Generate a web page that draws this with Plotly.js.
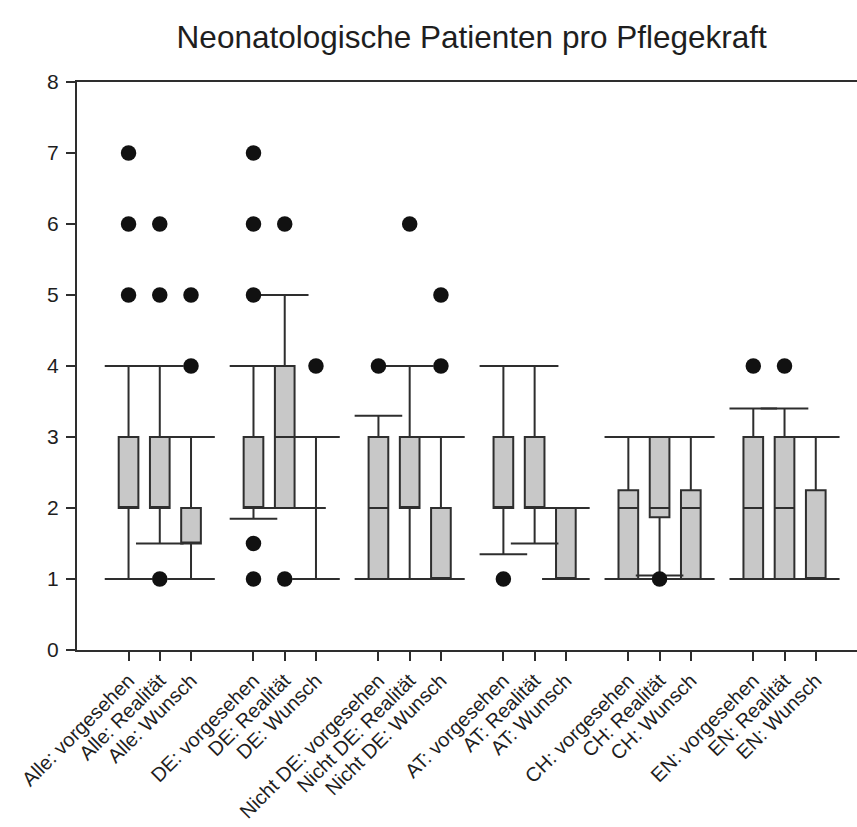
<!DOCTYPE html>
<html>
<head>
<meta charset="utf-8">
<script src="https://cdn.plot.ly/plotly-3.0.1.min.js"></script>
<style>
  html, body { margin: 0; padding: 0; background: #ffffff; overflow: hidden; }
  #chart { width: 857px; height: 827px; }
</style>
</head>
<body>
<div id="chart"></div>
<script>
// Patients per nurse in neonatology: planned, actual and desired, by region
const categories = [
  'Alle: vorgesehen', 'Alle: Realität', 'Alle: Wunsch',
  'DE: vorgesehen', 'DE: Realität', 'DE: Wunsch',
  'Nicht DE: vorgesehen', 'Nicht DE: Realität', 'Nicht DE: Wunsch',
  'AT: vorgesehen', 'AT: Realität', 'AT: Wunsch',
  'CH: vorgesehen', 'CH: Realität', 'CH: Wunsch',
  'EN: vorgesehen', 'EN: Realität', 'EN: Wunsch'
];

const lowerWhisker = [1, 1.5, 1,   1.85, 2, 1,   1, 1, 1,   1.35, 1.5, 1,   1, 1.05, 1,   1, 1, 1];
const q1           = [2, 2,   1.5, 2,    2, 2,   1, 2, 1,   2,    2,   1,   1, 1.87, 1,   1, 1, 1];
const median       = [2, 2,   1.5, 2,    3, 2,   2, 2, 1,   2,    2,   1,   2, 2,    2,   2, 2, 1];
const q3           = [3, 3,   2,   3,    4, 2,   3, 3, 2,   3,    3,   2,   2.25, 3, 2.25, 3, 3, 2.25];
const upperWhisker = [4, 4,   3,   4,    5, 3,   3.3, 4, 3, 4,    4,   2,   3, 3,    3,   3.4, 3.4, 3];

const outliers = [
  [5, 6, 7], [1, 5, 6], [4, 5],
  [1, 1.5, 5, 6, 7], [1, 6], [4],
  [4], [6], [4, 5],
  [1], [], [],
  [], [1], [],
  [4], [4], []
];

const yTicks = [0, 1, 2, 3, 4, 5, 6, 7, 8];

// three boxes per group, one empty slot between groups
const positions = categories.map((_, i) => i + Math.floor(i / 3));

const ink = '#2e2e2e';
const textInk = '#1e1e1e';
const font = 'Arial, "Liberation Sans", sans-serif';
const lw = 2;

const boxes = {
  type: 'box',
  x: positions,
  q1: q1,
  median: median,
  q3: q3,
  lowerfence: lowerWhisker,
  upperfence: upperWhisker,
  width: 0.63,
  whiskerwidth: 0,
  boxpoints: false,
  fillcolor: '#c8c8c8',
  line: { color: ink, width: lw },
  hoverinfo: 'skip',
  showlegend: false
};

// whisker caps, wider than the boxes
const caps = {
  type: 'scatter',
  mode: 'markers',
  x: positions.concat(positions),
  y: lowerWhisker.concat(upperWhisker),
  marker: { symbol: 'line-ew', size: 34, color: ink, line: { color: ink, width: lw } },
  hoverinfo: 'skip',
  showlegend: false
};

const outX = [];
const outY = [];
outliers.forEach((vals, i) => {
  vals.forEach(v => { outX.push(positions[i]); outY.push(v); });
});

const dots = {
  type: 'scatter',
  mode: 'markers',
  x: outX,
  y: outY,
  marker: { symbol: 'circle', size: 15.5, color: '#111111', line: { width: 0 } },
  hoverinfo: 'skip',
  showlegend: false
};

const layout = {
  width: 857,
  height: 827,
  margin: { l: 77, r: 0, t: 82, b: 177 },
  paper_bgcolor: '#ffffff',
  plot_bgcolor: '#ffffff',
  font: { family: font, color: textInk, size: 21 },
  title: {
    text: 'Neonatologische Patienten pro Pflegekraft',
    font: { family: font, size: 31.5, color: textInk },
    xref: 'paper', x: 0.506, xanchor: 'center',
    yref: 'container', y: 1 - 37 / 827, yanchor: 'middle'
  },
  xaxis: {
    range: [-1.65, 23.32],
    tickvals: positions,
    ticktext: categories,
    tickangle: -45,
    ticks: 'outside', ticklen: 9, tickwidth: lw, tickcolor: ink,
    showline: true, linecolor: ink, linewidth: lw,
    mirror: true,
    showgrid: false, zeroline: false,
    tickfont: { family: font, size: 20, color: textInk }
  },
  yaxis: {
    range: [0, 8],
    tickvals: yTicks,
    ticktext: yTicks.map(String),
    ticks: 'outside', ticklen: 9, tickwidth: lw, tickcolor: ink,
    showline: true, linecolor: ink, linewidth: lw,
    showgrid: false, zeroline: false,
    ticklabelstandoff: 3,
    tickfont: { family: font, size: 21, color: textInk }
  }
};

Plotly.newPlot('chart', [boxes, caps, dots], layout, { displayModeBar: false, staticPlot: true });
</script>
</body>
</html>
